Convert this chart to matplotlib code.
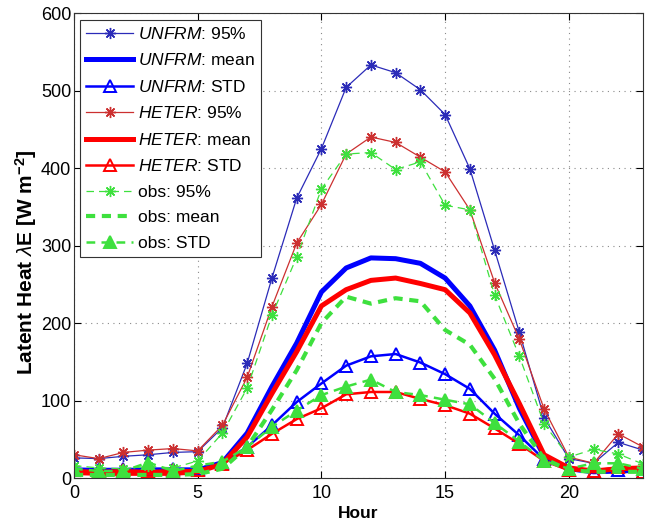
import matplotlib
matplotlib.use("Agg")
import matplotlib.pyplot as plt
import numpy as np

plt.rcParams['font.family'] = ['Liberation Sans', 'DejaVu Sans']
plt.rcParams['mathtext.fontset'] = 'custom'
plt.rcParams['mathtext.rm'] = 'Liberation Sans'
plt.rcParams['mathtext.it'] = 'Liberation Sans:italic'
plt.rcParams['mathtext.bf'] = 'Liberation Sans:bold'

# Diurnal cycle of latent heat flux (W m-2)
hours = list(range(24))

unfrm_95 = [26, 25, 28, 30, 33, 34, 65, 148, 258, 361, 425, 504, 533, 523,
            501, 469, 399, 294, 188, 78, 25, 19, 46, 36]
unfrm_mean = [10, 10, 10, 10, 10, 10, 20, 58, 118, 174, 240, 271, 284, 283,
              277, 258, 222, 165, 90, 28, 12, 8, 9, 10]
unfrm_std = [12, 11, 11, 12, 12, 12, 20, 40, 68, 98, 122, 145, 157, 160,
             149, 134, 115, 83, 55, 24, 10, 8, 10, 8]

heter_95 = [30, 25, 33, 36, 38, 35, 68, 130, 221, 303, 353, 418, 440, 433,
            414, 395, 346, 252, 179, 89, 27, 19, 57, 40]
heter_mean = [7, 6, 6, 6, 6, 8, 18, 53, 109, 163, 222, 243, 255, 258,
              251, 243, 213, 159, 96, 30, 13, 9, 12, 13]
heter_std = [10, 9, 10, 9, 10, 10, 18, 36, 57, 76, 90, 108, 111, 111,
             102, 94, 83, 64, 44, 22, 10, 9, 14, 8]

obs_95 = [16, 13, 12, 15, 13, 22, 58, 116, 210, 285, 373, 418, 420, 398,
          408, 352, 346, 236, 157, 70, 27, 37, 31, 18]
obs_mean = [4, 4, 4, 4, 4, 5, 12, 40, 88, 139, 200, 234, 225, 232,
            228, 191, 172, 128, 70, 25, 10, 8, 8, 8]
obs_std = [12, 9, 9, 20, 9, 16, 21, 40, 66, 87, 107, 118, 127, 111,
           107, 101, 95, 71, 47, 22, 12, 19, 19, 12]

blue_thin = '#2b2bb8'
blue = '#0000ff'
red_thin = '#cc3030'
red = '#ff0000'
green = '#3ee03e'
star = (8, 2, 0)

fig = plt.figure(figsize=(6.45, 5.29), dpi=100)
ax = fig.add_axes([0.1147, 0.0964, 0.8823, 0.879])

ax.plot(hours, unfrm_95, color=blue_thin, lw=0.9, marker=star, ms=8, mew=1.0,
        label=r'$\mathit{UNFRM}$: 95%')
ax.plot(hours, unfrm_mean, color=blue, lw=3.6, label=r'$\mathit{UNFRM}$: mean')
ax.plot(hours, unfrm_std, color=blue, lw=1.8, marker='^', ms=8, mew=1.4,
        mfc='none', label=r'$\mathit{UNFRM}$: STD')

ax.plot(hours, heter_95, color=red_thin, lw=0.9, marker=star, ms=8, mew=1.0,
        label=r'$\mathit{HETER}$: 95%')
ax.plot(hours, heter_mean, color=red, lw=3.6, label=r'$\mathit{HETER}$: mean')
ax.plot(hours, heter_std, color=red, lw=1.8, marker='^', ms=8, mew=1.4,
        mfc='none', label=r'$\mathit{HETER}$: STD')

ax.plot(hours, obs_95, color=green, lw=0.9, ls=(0, (6, 4)), marker=star, ms=8,
        mew=1.0, label='obs: 95%')
ax.plot(hours, obs_mean, color=green, lw=3.0, ls=(0, (2.2, 1.6)),
        label='obs: mean')
ax.plot(hours, obs_std, color=green, lw=1.8, ls=(0, (3.5, 2.5)), marker='^',
        ms=8, mew=1.4, mfc=green, label='obs: STD')

ax.set_xlim(0, 23)
ax.set_ylim(0, 600)
ax.set_xticks([0, 5, 10, 15, 20])
ax.set_yticks(range(0, 601, 100))
ax.tick_params(direction='in', top=True, right=True, labelsize=13,
               length=5, width=0.8)
ax.tick_params(axis='x', pad=5)
ax.tick_params(axis='y', pad=2)
ax.grid(True, linestyle=(0, (1, 4)), color='#8a8a8a', linewidth=0.8)
for s in ax.spines.values():
    s.set_linewidth(0.8)
    s.set_color('#333333')

ax.set_xlabel('Hour', fontsize=12.5, fontweight='bold', labelpad=3)
ax.set_ylabel(r'Latent Heat $\lambda$E [W m$^{\mathbf{-2}}$]', fontsize=15,
              fontweight='bold')
ax.yaxis.set_label_coords(-0.062, 0.465)

leg = ax.legend(loc='upper left', bbox_to_anchor=(0.011, 0.985),
                borderaxespad=0, fontsize=12.5, handlelength=2.7,
                handletextpad=0.3, labelspacing=0.6, borderpad=0.35,
                fancybox=False, framealpha=1, edgecolor='#333333')
leg.get_frame().set_linewidth(0.8)

fig.savefig('out.png', dpi=100)
